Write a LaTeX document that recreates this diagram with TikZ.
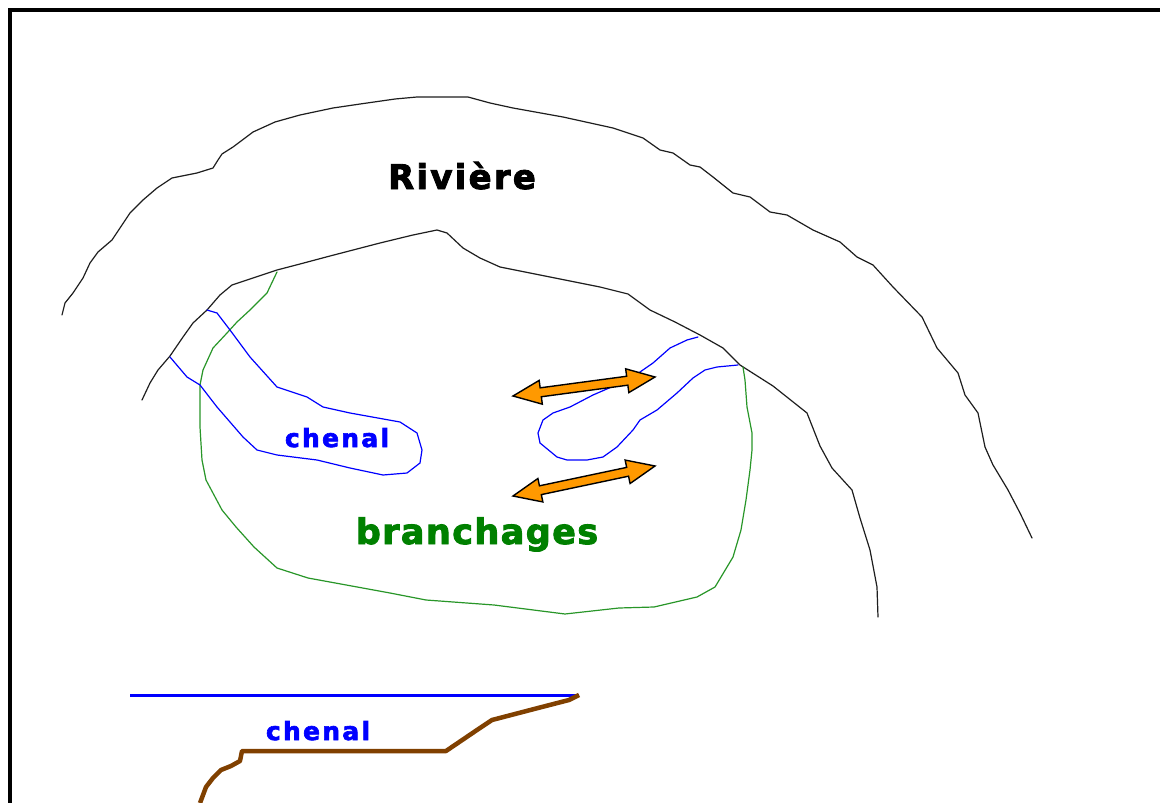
\documentclass[tikz,border=0pt]{standalone}
\usepackage{fontspec}
\usetikzlibrary{calc}
\newfontfamily\rivfont[LetterSpace=6.5, BoldFeatures={FakeBold=2.5}]{DejaVu Sans}
\newfontfamily\chanfont[LetterSpace=9, BoldFeatures={FakeBold=2.5}]{DejaVu Sans}
\newfontfamily\branchfont[LetterSpace=4, BoldFeatures={FakeBold=2.5}]{DejaVu Sans}
\definecolor{bankcol}{RGB}{30,30,30}
\definecolor{chancol}{RGB}{0,0,255}
\definecolor{brushcol}{RGB}{40,150,40}
\definecolor{brushtxt}{RGB}{0,128,0}
\definecolor{flowcol}{RGB}{255,153,0}
\definecolor{bedcol}{RGB}{128,64,0}
\tikzset{
  bank/.style={draw=bankcol, line width=1.2pt, line join=round, line cap=round},
  channel/.style={draw=chancol, line width=1.2pt, line join=round, line cap=round},
  brush/.style={draw=brushcol, line width=1.2pt, line join=round, line cap=round},
  flow/.style={draw=black, fill=flowcol, line width=1.4pt, line join=miter},
  lbl/.style={inner sep=0pt, anchor=base},
}
% double-headed flow arrow between two named points
\newcommand{\flowarrow}[2]{%
  \path ($(#1)!28pt!(#2)$) coordinate (hl) ($(#2)!28pt!(#1)$) coordinate (hr);
  \filldraw[flow] (#1) -- ($(hl)!12pt!90:(#2)$) -- ($(hl)!4.5pt!90:(#2)$)
    -- ($(hr)!4.5pt!-90:(#1)$) -- ($(hr)!12pt!-90:(#1)$) -- (#2)
    -- ($(hr)!12pt!90:(#1)$) -- ($(hr)!4.5pt!90:(#1)$)
    -- ($(hl)!4.5pt!-90:(#2)$) -- ($(hl)!12pt!-90:(#2)$) -- cycle;}
\begin{document}
\begin{tikzpicture}[x=1pt,y=-1pt]
\useasboundingbox[fill=white] (0,0) rectangle (1160,803);

% frame
\draw[line width=3.3pt] (10,803) -- (10,10) -- (1160,10);

% outer bank
\draw[bank] (62,315) -- (65,303) -- (73,293) -- (83,278) -- (90,263) -- (98,252)
  -- (112,240) -- (120,228) -- (130,213) -- (143,200) -- (157,188) -- (172,178)
  -- (197,173) -- (213,168) -- (218,160) -- (222,154) -- (233,147) -- (253,132)
  -- (275,122) -- (300,115) -- (333,108) -- (367,103) -- (395,99) -- (417,97)
  -- (468,97) -- (490,103) -- (513,108) -- (563,117) -- (613,128) -- (643,138)
  -- (660,150) -- (673,153) -- (690,165) -- (700,167) -- (713,177) -- (733,193)
  -- (750,197) -- (770,212) -- (787,215) -- (813,230) -- (840,242) -- (857,257)
  -- (873,265) -- (893,287) -- (922,317) -- (937,348) -- (958,373) -- (965,395)
  -- (978,413) -- (985,447) -- (993,465) -- (1008,490) -- (1020,513) -- (1032,538);

% inner bank
\draw[bank] (142,400) -- (150,383) -- (158,370) -- (170,356) -- (183,337) -- (193,323)
  -- (207,310) -- (220,295) -- (232,285) -- (253,278) -- (277,270) -- (300,264)
  -- (330,256) -- (380,243) -- (413,235) -- (437,230) -- (447,233) -- (463,248)
  -- (480,258) -- (500,267) -- (530,273) -- (560,279) -- (600,287) -- (628,294)
  -- (650,310) -- (675,322) -- (700,335) -- (723,348) -- (740,365) -- (773,386)
  -- (807,413) -- (820,446) -- (832,468) -- (852,490) -- (860,518) -- (870,550)
  -- (877,587) -- (878,617);

% brush zone
\draw[brush] (277,272) -- (267,293) -- (250,310) -- (237,322) -- (227,333) -- (213,348)
  -- (203,370) -- (200,385) -- (200,427) -- (202,460) -- (206,480) -- (222,510)
  -- (236,527) -- (254,547) -- (277,568) -- (308,578) -- (390,593) -- (426,600)
  -- (494,605) -- (565,614) -- (619,608) -- (654,607) -- (697,597) -- (715,587)
  -- (733,557) -- (741,530) -- (746,500) -- (750,470) -- (752,450) -- (752,433)
  -- (747,407) -- (745,380) -- (743,367);

% left channel
\draw[channel] (207,310) -- (217,313) -- (230,330) -- (250,357) -- (277,387) -- (307,397)
  -- (323,407) -- (350,413) -- (400,422) -- (417,433) -- (422,450) -- (420,463)
  -- (407,473) -- (383,475) -- (350,468) -- (317,460) -- (277,455) -- (257,450)
  -- (243,437) -- (217,407) -- (200,385) -- (187,377) -- (170,357);

% right channel
\draw[channel] (698,337) -- (687,340) -- (670,348) -- (653,363) -- (640,372) -- (623,382)
  -- (593,395) -- (570,407) -- (553,413) -- (543,420) -- (538,433) -- (540,443)
  -- (557,457) -- (567,460) -- (587,460) -- (603,457) -- (617,447) -- (633,430)
  -- (640,420) -- (657,410) -- (677,393) -- (693,378) -- (705,370) -- (717,367)
  -- (738,365);

% flow arrows
\coordinate (fa1) at (513,396);
\coordinate (fb1) at (655,377);
\coordinate (fa2) at (513,496);
\coordinate (fb2) at (655,466);
\flowarrow{fa1}{fb1}
\flowarrow{fa2}{fb2}

% labels
\node[lbl] (river) at (462,189) {\rivfont\bfseries\fontsize{34}{40}\selectfont Rivière};
\node[lbl, text=chancol] (chan) at (337,447) {\chanfont\bfseries\fontsize{25}{30}\selectfont chenal};
\node[lbl, text=brushtxt] (brushlbl) at (477,544) {\branchfont\bfseries\fontsize{35}{42}\selectfont branchages};

% cross-section
\coordinate (wl) at (130,695);
\coordinate (wr) at (579,695);
\draw[draw=chancol, line width=3pt] (wl) -- (wr);
\draw[draw=bedcol, line width=4.5pt, line join=round] (wr) -- (569,700) -- (538,708)
  -- (492,720) -- (477,730) -- (446,751) -- (242,751) -- (240,761) -- (231,766)
  -- (221,770) -- (213,778) -- (206,787) -- (200,803);
\node[lbl, text=chancol] (chansec) at (318,740) {\chanfont\bfseries\fontsize{25}{30}\selectfont chenal};
\end{tikzpicture}
\end{document}
